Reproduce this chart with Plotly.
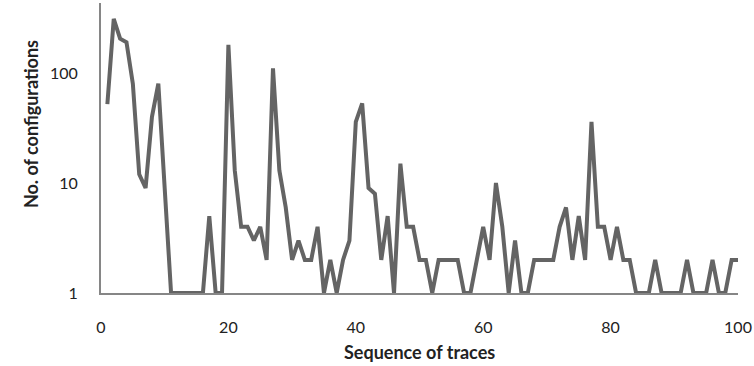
import plotly.graph_objects as go

trace_seq = list(range(1, 101))
configs = [52, 310, 205, 190, 80, 12, 9, 40, 80, 8,
           1, 1, 1, 1, 1, 1, 5, 1, 1, 180,
           13, 4, 4, 3, 4, 2, 110, 13, 6, 2,
           3, 2, 2, 4, 1, 2, 1, 2, 3, 36,
           53, 9, 8, 2, 5, 1, 15, 4, 4, 2,
           2, 1, 2, 2, 2, 2, 1, 1, 2, 4,
           2, 10, 4, 1, 3, 1, 1, 2, 2, 2,
           2, 4, 6, 2, 5, 2, 36, 4, 4, 2,
           4, 2, 2, 1, 1, 1, 2, 1, 1, 1,
           1, 2, 1, 1, 1, 2, 1, 1, 2, 2]
x_ticks = [0, 20, 40, 60, 80, 100]
y_ticks = [1, 10, 100]

FONT = "Lato"
fig = go.Figure()
fig.add_trace(go.Scatter(x=trace_seq, y=configs, mode="lines",
                         line=dict(color="#646464", width=4), cliponaxis=True))
fig.update_layout(
    width=754, height=366, margin=dict(l=101, r=16, t=3, b=73),
    plot_bgcolor="white", paper_bgcolor="white", showlegend=False,
    font=dict(family=FONT, size=16, color="#222"),
)
fig.update_xaxes(range=[0, 100], tickvals=x_ticks, showgrid=False, zeroline=False,
                 showline=True, linecolor="#868686", linewidth=2, ticks="",
                 ticklabelstandoff=19, tickfont=dict(size=16))
fig.update_yaxes(type="log", range=[0, 2.636], tickvals=y_ticks, ticktext=["1", "10", "100"],
                 showgrid=False, zeroline=False, showline=True, linecolor="#868686",
                 linewidth=2, ticks="", ticklabelstandoff=18, tickfont=dict(size=16))
fig.add_annotation(text="<b>Sequence of traces</b>", xref="paper", yref="paper",
                   x=0.5, y=-0.203, yanchor="middle", showarrow=False,
                   font=dict(size=18, family=FONT, color="#222"))
fig.add_annotation(text="<b>No. of configurations</b>", xref="paper", yref="paper",
                   x=-0.130, y=0.583, textangle=-90, showarrow=False,
                   font=dict(size=18, family=FONT, color="#222"))
fig.write_html("out.html")
